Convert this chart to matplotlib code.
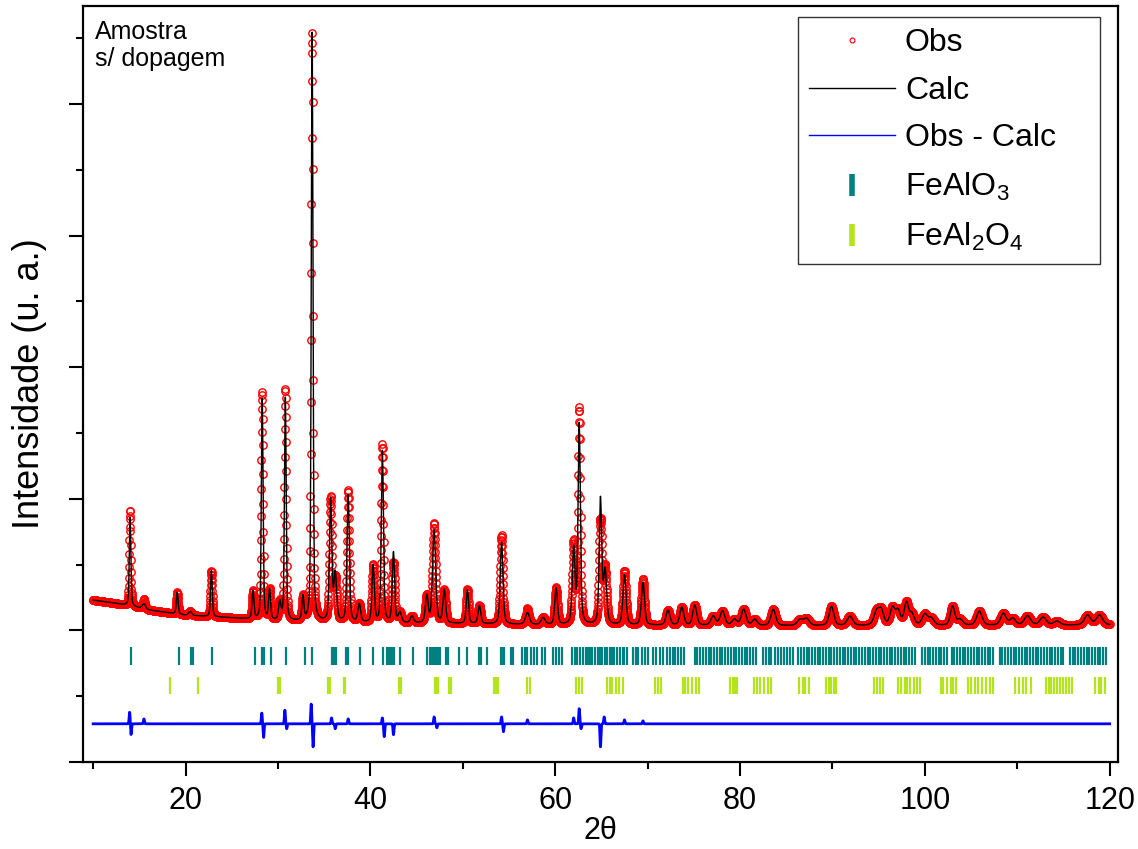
import numpy as np
import matplotlib
matplotlib.use("Agg")
import matplotlib.pyplot as plt
from matplotlib.lines import Line2D
from matplotlib.ticker import MultipleLocator

plt.rcParams['font.family'] = ['Liberation Sans', 'DejaVu Sans']

# faixa da varredura (graus)
scan_start = 10.0
scan_end = 120.0
scan_step = 0.02

# background (pontos de ancoragem, interpolação linear)
bg_pos = [10, 12, 14, 16, 20, 25, 30, 40, 50, 60, 80, 100, 120]
bg_int = [2460, 2420, 2370, 2310, 2230, 2190, 2140, 2110, 2100, 2080, 2070, 2070, 2080]

peak_pos = [14.0, 15.5, 19.1, 20.5, 22.8, 27.3, 28.3, 29.1, 30.2, 30.8,
            32.7, 33.7, 35.7, 36.2, 37.6, 38.8, 40.3, 41.3, 42.5, 43.2,
            44.5, 46.1, 46.9, 48.0, 50.5, 51.8, 54.2, 57.0, 58.7, 60.1,
            62.0, 62.6, 64.9, 65.4, 67.5, 69.5, 72.2, 73.7, 75.1, 77.1,
            78.1, 79.4, 80.4, 81.6, 83.6, 86.5, 87.2, 89.9, 91.9, 94.8,
            95.3, 96.5, 97.1, 98.0, 98.6, 100.0, 100.7, 103.0, 103.8, 105.9,
            108.5, 109.5, 111.1, 112.8, 114.3, 117.6, 118.9]
peak_int = [1350, 80, 330, 60, 700, 425, 3360, 455, 275, 3390,
            365, 8950, 1850, 715, 1930, 275, 865, 2610, 1065, 150,
            105, 410, 1410, 500, 515, 275, 1245, 180, 105, 560,
            1140, 3040, 1900, 805, 760, 655, 230, 275, 305, 140,
            215, 90, 245, 90, 245, 90, 105, 290, 140, 215,
            200, 260, 215, 335, 165, 165, 105, 290, 90, 215,
            180, 105, 140, 120, 60, 150, 150]
peak_fwhm = [0.20, 0.40, 0.22, 0.40, 0.22, 0.25, 0.22, 0.25, 0.30, 0.22,
             0.25, 0.22, 0.30, 0.35, 0.30, 0.35, 0.30, 0.28, 0.30, 0.40,
             0.40, 0.35, 0.40, 0.35, 0.30, 0.35, 0.35, 0.50, 0.50, 0.35,
             0.35, 0.30, 0.32, 0.40, 0.40, 0.40, 0.50, 0.50, 0.50, 0.60,
             0.60, 0.60, 0.60, 0.60, 0.60, 0.70, 0.70, 0.60, 0.70, 0.70,
             0.60, 0.60, 0.60, 0.55, 0.60, 0.70, 0.70, 0.55, 0.70, 0.70,
             0.70, 0.70, 0.80, 0.80, 0.80, 0.80, 0.80]

# resíduos principais (Obs - Calc)
diff_pos = [13.95, 14.1, 15.5, 28.25, 28.45, 30.75, 30.95, 33.6, 33.8, 35.8,
            36.2, 37.6, 41.3, 41.5, 42.5, 46.9, 47.2, 54.2, 54.4, 57.0,
            62.0, 62.6, 62.8, 64.9, 65.3, 67.5, 69.5]
diff_int = [180, -165, 75, 165, -210, 210, -75, 300, -350, 90,
            -75, 75, 90, -195, -165, 105, -60, 105, -120, 60,
            90, 230, -75, -350, 105, 60, 45]
diff_offset = 580

# posições de Bragg
refl_fealo3 = [14.1, 19.3, 20.6, 20.8, 22.9, 27.5, 28.3, 28.5, 29.2, 30.9,
               32.9, 33.7, 35.9, 36.1, 36.3, 37.4, 37.6, 38.9, 40.3, 41.4,
               41.8, 42.0, 42.2, 42.4, 42.6, 43.2, 44.6, 46.1, 46.5, 46.7,
               46.9, 47.1, 47.3, 47.5, 48.2, 48.4, 49.6, 50.5, 51.8, 52.0,
               52.6, 54.1, 54.3, 54.5, 55.2, 55.4, 56.4, 56.7, 57.0, 57.4,
               57.7, 58.0, 58.6, 58.9, 59.8, 60.1, 60.4, 60.7, 61.8, 62.1,
               62.4, 62.7, 63.0, 63.3, 63.5, 63.8, 64.0, 64.3, 64.6, 64.8,
               65.1, 65.4, 65.6, 65.9, 66.2, 66.4, 66.7, 67.0, 67.3, 67.5,
               67.8, 68.4, 68.7, 69.0, 69.4, 69.7, 70.0, 70.6, 70.9, 71.3,
               71.7, 72.1, 72.4, 72.7, 73.0, 73.3, 73.6, 73.9, 75.1, 75.4,
               75.7, 76.0, 76.3, 76.6, 76.9, 77.2, 77.5, 77.8, 78.1, 78.4,
               78.7, 79.0, 79.3, 79.6, 79.9, 80.2, 80.5, 80.8, 81.1, 81.4,
               81.7, 82.5, 82.8, 83.1, 83.4, 83.8, 84.1, 84.4, 84.8, 85.1,
               85.4, 85.7, 86.3, 86.6, 86.9, 87.2, 87.5, 87.8, 88.1, 88.4,
               88.7, 89.0, 89.3, 89.6, 89.9, 90.2, 90.5, 90.8, 91.1, 91.4,
               91.7, 92.0, 92.3, 92.6, 92.9, 93.2, 93.5, 93.8, 94.1, 94.4,
               94.7, 95.0, 95.3, 95.6, 95.9, 96.2, 96.5, 96.8, 97.1, 97.4,
               97.7, 98.0, 98.3, 98.6, 98.9, 99.7, 100.0, 100.3, 100.6, 100.9,
               101.2, 101.5, 101.8, 102.1, 102.4, 102.9, 103.2, 103.5, 103.8, 104.1,
               104.4, 104.7, 105.0, 105.3, 105.6, 105.9, 106.2, 106.5, 106.8, 107.1,
               107.4, 108.1, 108.4, 108.7, 109.0, 109.3, 109.6, 109.9, 110.2, 110.5,
               110.8, 111.1, 111.4, 111.7, 112.0, 112.3, 112.6, 112.9, 113.2, 113.5,
               113.8, 114.1, 114.4, 114.7, 115.0, 115.7, 116.0, 116.3, 116.6, 116.9,
               117.2, 117.5, 117.8, 118.1, 118.4, 118.7, 119.0, 119.3, 119.6]
refl_feal2o4 = [18.3, 21.4, 30.05, 30.2, 35.4, 35.6, 37.1, 37.3, 43.1, 43.3,
                47.0, 47.15, 47.3, 48.5, 48.7, 53.4, 53.6, 53.8, 57.0, 57.3,
                62.3, 62.6, 62.9, 65.6, 65.9, 66.2, 66.6, 66.9, 67.3, 70.8,
                71.1, 71.5, 73.8, 74.1, 74.4, 74.8, 75.2, 75.6, 78.9, 79.2,
                79.5, 79.7, 81.5, 81.8, 82.2, 82.6, 83.0, 83.4, 86.4, 86.8,
                87.0, 87.5, 89.3, 89.6, 89.9, 90.2, 90.4, 94.5, 94.8, 95.1,
                95.5, 97.1, 97.4, 97.8, 98.1, 98.4, 98.8, 99.1, 99.5, 101.7,
                102.0, 102.4, 102.8, 103.1, 103.4, 104.7, 105.0, 105.4, 105.8, 106.2,
                106.6, 107.0, 107.4, 109.8, 110.2, 110.6, 111.0, 111.5, 113.1, 113.4,
                113.7, 114.0, 114.3, 114.6, 114.9, 115.3, 115.6, 115.9, 118.4, 118.8,
                119.1, 119.5]


def pseudo_voigt(x, pos, fwhm, eta=0.4):
    """Perfil pseudo-Voigt normalizado para altura 1."""
    dx = (x - pos) / fwhm
    gauss = np.exp(-4 * np.log(2) * dx ** 2)
    lorentz = 1.0 / (1.0 + 4 * dx ** 2)
    return eta * lorentz + (1 - eta) * gauss


def build_profiles():
    x = np.arange(scan_start, scan_end + scan_step / 2, scan_step)
    calc = np.interp(x, bg_pos, bg_int).astype(float)
    for p, h, w in zip(peak_pos, peak_int, peak_fwhm):
        calc += h * pseudo_voigt(x, p, w)
    diff = np.zeros_like(x)
    for p, h in zip(diff_pos, diff_int):
        diff += h * np.exp(-4 * np.log(2) * ((x - p) / 0.12) ** 2)
    obs = calc + diff
    return x, obs, calc, diff


def create_plot(output_path):
    x, obs, calc, diff = build_profiles()

    fig = plt.figure(figsize=(11.38, 8.49), dpi=100)
    ax = fig.add_axes([0.0729, 0.1025, 0.9095, 0.8904])

    ax.plot(x, obs, linestyle='none', marker='o', ms=5.3, mfc='none',
            mec='red', mew=1.0)
    ax.plot(x, calc, color='black', lw=1.0)
    ax.plot(x, diff + diff_offset, color='#0000ff', lw=2.0)
    ax.vlines(refl_fealo3, 1475, 1750, color='#008080', lw=1.6)
    ax.vlines(refl_feal2o4, 1035, 1290, color='#b4e41e', lw=1.6)

    ax.set_xlim(8.9, 120.9)
    ax.set_ylim(0, 11490)
    ax.xaxis.set_major_locator(MultipleLocator(20))
    ax.xaxis.set_minor_locator(MultipleLocator(10))
    ax.yaxis.set_major_locator(MultipleLocator(2000))
    ax.yaxis.set_minor_locator(MultipleLocator(1000))
    ax.tick_params(which='both', direction='out', width=1.5, labelsize=22,
                   pad=7)
    ax.tick_params(which='major', length=10)
    ax.tick_params(which='minor', length=5)
    ax.tick_params(axis='y', labelleft=False)
    for spine in ax.spines.values():
        spine.set_linewidth(1.6)

    ax.set_xlabel('2θ', fontsize=22, labelpad=0)
    ax.set_ylabel('Intensidade (u. a.)', fontsize=26, labelpad=14)

    ax.text(0.012, 0.982, 'Amostra\ns/ dopagem', transform=ax.transAxes,
            fontsize=18, va='top', ha='left', linespacing=1.2)

    handles = [
        Line2D([], [], linestyle='none', marker='o', ms=3.5, mfc='none',
               mec='red', mew=0.8),
        Line2D([], [], color='black', lw=1.0),
        Line2D([], [], color='#0000ff', lw=1.0),
        Line2D([], [], linestyle='none', marker='|', ms=16, mew=4,
               color='#008080'),
        Line2D([], [], linestyle='none', marker='|', ms=16, mew=4,
               color='#b4e41e'),
    ]
    labels = ['Obs', 'Calc', 'Obs - Calc', r'FeAlO$_\mathregular{3}$',
              r'FeAl$_\mathregular{2}$O$_\mathregular{4}$']
    leg = ax.legend(handles, labels, loc='upper left',
                    bbox_to_anchor=(0.6908, 0.9855, 0.2918, 0.0),
                    mode='expand', borderaxespad=0,
                    fontsize=23, frameon=True, fancybox=False,
                    handlelength=2.7, handletextpad=0.3, labelspacing=0.55,
                    borderpad=0.35)
    leg.get_frame().set_edgecolor('black')
    leg.get_frame().set_linewidth(1.0)

    fig.savefig(output_path, dpi=100)


if __name__ == "__main__":
    create_plot('out.png')
